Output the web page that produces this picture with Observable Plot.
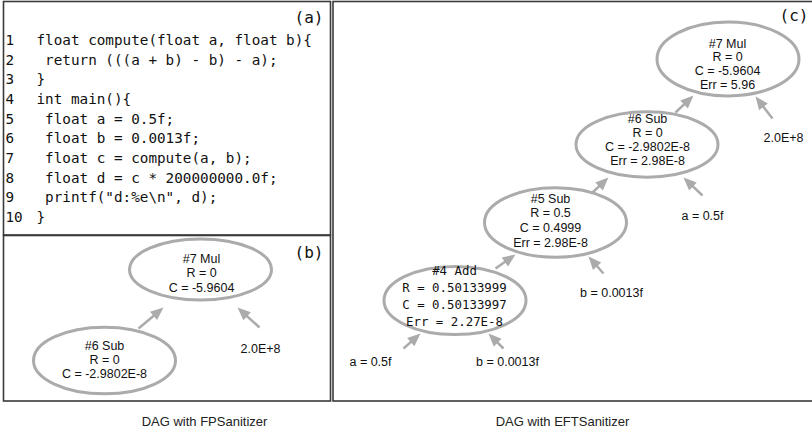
<!DOCTYPE html>
<html>
<head>
<meta charset="utf-8">
<script src="https://cdn.jsdelivr.net/npm/d3@7"></script>
<script src="https://cdn.jsdelivr.net/npm/@observablehq/plot@0.6"></script>
<style>
  html, body { margin: 0; padding: 0; background: #fff; }
  svg text { white-space: pre; }
</style>
</head>
<body>
<div id="chart"></div>
<script>
// ---------- content ----------
const lineNumbers = ["1", "2", "3", "4", "5", "6", "7", "8", "9", "10"];
const codeLines = [
  "float compute(float a, float b){",
  " return (((a + b) - b) - a);",
  "}",
  "int main(){",
  " float a = 0.5f;",
  " float b = 0.0013f;",
  " float c = compute(a, b);",
  " float d = c * 200000000.0f;",
  " printf(\"d:%e\\n\", d);",
  "}"
];
const panelLabels = ["(a)", "(b)", "(c)"];
const captions = ["DAG with FPSanitizer", "DAG with EFTSanitizer"];

const nodeNames = ["#7 Mul", "#6 Sub", "#7 Mul", "#6 Sub", "#5 Sub", "#4 Add"];
const nodeR = ["R = 0", "R = 0", "R = 0", "R = 0", "R = 0.5", "R = 0.50133999"];
const nodeC = ["C = -5.9604", "C = -2.9802E-8", "C = -5.9604", "C = -2.9802E-8", "C = 0.4999", "C = 0.50133997"];
const nodeErr = [null, null, "Err = 5.96", "Err = 2.98E-8", "Err = 2.98E-8", "Err = 2.27E-8"];

const inputLabels = ["2.0E+8", "2.0E+8", "a = 0.5f", "b = 0.0013f", "a = 0.5f", "b = 0.0013f"];

// ---------- layout (pixel space) ----------
const panelLayout = [
  {x1: 3.5, x2: 330.5, y1: 1.5, y2: 235},
  {x1: 3.5, x2: 330.5, y1: 235.5, y2: 401},
  {x1: 333, x2: 813, y1: 1.5, y2: 401}
];
const panelLabelLayout = [{x: 323, y: 17}, {x: 323, y: 252}, {x: 808, y: 15}];
const captionLayout = [{x: 204, y: 421}, {x: 562, y: 421}];
const nodeLayout = [
  {cx: 200, cy: 269, k: 0.43, tx: 201, ty: 258, dy: 14.5, mono: false},
  {cx: 104, cy: 360, k: 0.47, tx: 104, ty: 345, dy: 14, mono: false},
  {cx: 727.5, cy: 58.5, k: 0.52, tx: 727, ty: 43, dy: 13.7, mono: false},
  {cx: 646.5, cy: 144, k: 0.46, tx: 647, ty: 118, dy: 14, mono: false},
  {cx: 555, cy: 222, k: 0.49, tx: 550, ty: 198, dy: 14.7, mono: false},
  {cx: 454.5, cy: 300, k: 0.48, tx: 454, ty: 271, dy: 17, mono: true}
];
const inputLayout = [
  {x: 260, y: 348}, {x: 783, y: 137}, {x: 702, y: 215},
  {x: 611, y: 292}, {x: 370, y: 361}, {x: 507, y: 361}
];
const arrowLayout = [
  {x1: 138, y1: 328, x2: 163, y2: 307},
  {x1: 259, y1: 327, x2: 237, y2: 307},
  {x1: 675, y1: 112, x2: 693, y2: 95},
  {x1: 772, y1: 118, x2: 755, y2: 96},
  {x1: 592, y1: 192, x2: 608, y2: 177},
  {x1: 702, y1: 195, x2: 683, y2: 177},
  {x1: 495, y1: 268, x2: 515, y2: 254},
  {x1: 603, y1: 273, x2: 588, y2: 256},
  {x1: 403, y1: 348, x2: 420, y2: 333},
  {x1: 503, y1: 348, x2: 488, y2: 333}
];

// ---------- styles ----------
const GRAY = "#ababab";
const SANS = "Liberation Sans, Arial, Helvetica, sans-serif";
const MONO = "DejaVu Sans Mono, monospace";

// ---------- derived tables ----------
const codeTable = codeLines.map((t, i) => ({n: lineNumbers[i], t, y: 40 + i * 19.65}));
const nodeTable = nodeNames.map((name, i) => ({...nodeLayout[i], lines: [name, nodeR[i], nodeC[i], nodeErr[i]].filter(v => v != null)}));
const nodeText = nodeTable.flatMap(n => n.lines.map((t, j) => ({t, x: n.tx, y: n.ty + j * n.dy, mono: n.mono})));

function ellipseSymbol(k) {
  return {
    draw(ctx, size) {
      const rx = Math.sqrt(size / Math.PI), ry = rx * k, c = 0.5523;
      ctx.moveTo(rx, 0);
      ctx.bezierCurveTo(rx, ry * c, rx * c, ry, 0, ry);
      ctx.bezierCurveTo(-rx * c, ry, -rx, ry * c, -rx, 0);
      ctx.bezierCurveTo(-rx, -ry * c, -rx * c, -ry, 0, -ry);
      ctx.bezierCurveTo(rx * c, -ry, rx, -ry * c, rx, 0);
      ctx.closePath();
    }
  };
}
const ellipseSymbols = nodeTable.map(n => ellipseSymbol(n.k));
const headSymbol = {
  draw(ctx) {
    ctx.moveTo(0, 0);
    ctx.lineTo(-5.5, 13);
    ctx.lineTo(5.5, 13);
    ctx.closePath();
  }
};
const arrowTable = arrowLayout.map(a => {
  const dx = a.x2 - a.x1, dy = a.y2 - a.y1, L = Math.hypot(dx, dy);
  return {...a, sx: a.x2 - dx / L * 10, sy: a.y2 - dy / L * 10, angle: Math.atan2(dx, -dy) * 180 / Math.PI};
});

const chart = Plot.plot({
  width: 812,
  height: 437,
  margin: 0,
  x: {domain: [0, 812], range: [0, 812], axis: null},
  y: {domain: [0, 437], range: [0, 437], axis: null},
  style: {background: "#fff", fontFamily: SANS, overflow: "visible"},
  marks: [
    Plot.rect(panelLayout, {x1: "x1", x2: "x2", y1: "y1", y2: "y2", fill: "none", stroke: "#3a3a3a", strokeWidth: 1.6}),
    Plot.text(panelLabels, {x: (d, i) => panelLabelLayout[i].x, y: (d, i) => panelLabelLayout[i].y, text: d => d, textAnchor: "end", fontFamily: MONO, fontSize: 16, fill: "#111"}),
    Plot.text(codeTable, {x: 5, y: "y", text: "n", textAnchor: "start", fontFamily: MONO, fontSize: 14.3, fill: "#111"}),
    Plot.text(codeTable, {x: 36, y: "y", text: "t", textAnchor: "start", fontFamily: MONO, fontSize: 14.3, fill: "#111"}),
    Plot.dot(nodeTable, {x: "cx", y: "cy", r: 71, symbol: (d, i) => ellipseSymbols[i], fill: "none", stroke: GRAY, strokeWidth: 3}),
    Plot.text(nodeText.filter(d => !d.mono), {x: "x", y: "y", text: "t", fontFamily: SANS, fontSize: 12.5, fill: "#111"}),
    Plot.text(nodeText.filter(d => d.mono), {x: "x", y: "y", text: "t", fontFamily: MONO, fontSize: 12.4, fill: "#111"}),
    Plot.link(arrowTable, {x1: "x1", y1: "y1", x2: "sx", y2: "sy", stroke: GRAY, strokeWidth: 2.5}),
    Plot.dot(arrowTable, {x: "x2", y: "y2", symbol: headSymbol, rotate: "angle", fill: GRAY, stroke: "none"}),
    Plot.text(inputLabels, {x: (d, i) => inputLayout[i].x, y: (d, i) => inputLayout[i].y, text: d => d, fontFamily: SANS, fontSize: 12.5, fill: "#111"}),
    Plot.text(captions, {x: (d, i) => captionLayout[i].x, y: (d, i) => captionLayout[i].y, text: d => d, fontFamily: SANS, fontSize: 13, fill: "#222"})
  ]
});
document.getElementById("chart").appendChild(chart);
</script>
</body>
</html>
